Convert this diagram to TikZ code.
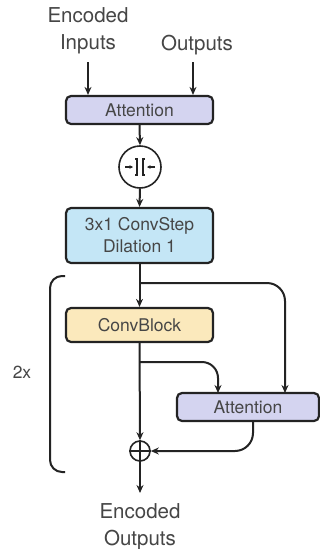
\documentclass[tikz,border=0pt]{standalone}
\usepackage{fontspec}
\setmainfont{TeX Gyre Heros}
\usetikzlibrary{arrows.meta}
\definecolor{attfill}{RGB}{212,212,240}
\definecolor{convfill}{RGB}{196,230,246}
\definecolor{blockfill}{RGB}{251,233,188}
\definecolor{ink}{RGB}{35,35,35}
\definecolor{txt}{RGB}{70,70,70}
\begin{document}
\begin{tikzpicture}[x=1pt,y=-1pt,
  box/.style={draw=ink, line width=2.2pt, rounded corners=5pt, minimum height=28pt, text=txt, font=\fontsize{17.5}{20}\selectfont, inner sep=0pt},
  lbl/.style={text=txt, font=\fontsize{20.5}{27}\selectfont, align=center, inner sep=0pt},
  conn/.style={draw=ink, line width=2pt, -{Stealth[length=8pt,width=7pt]}},
  small/.style={draw=ink, line width=1.1pt, -{Stealth[length=3.5pt,width=3.5pt]}},
  plain/.style={draw=ink, line width=2pt}]
\useasboundingbox (0,0) rectangle (320,549);
\fill[white] (0,0) rectangle (320,549);
% top labels
\node[lbl] (encin) at (88,31) {Encoded\\Inputs};
\node[lbl] (outs) at (197,45) {Outputs};
\coordinate (encinb) at (88,62);
\coordinate (outsb) at (193,62);
% attention 1
\node[box, fill=attfill, minimum width=147pt] (att1) at (139.5,110) {Attention};
\draw[conn] (encinb) -- (encinb |- att1.north);
\draw[conn] (outsb) -- (outsb |- att1.north);
% concat circle
\node[draw=ink, line width=1.6pt, circle, minimum size=42pt, inner sep=0pt] (cat) at (140,167) {};
\draw[ink, line width=1.6pt] ([xshift=-5pt,yshift=8pt]cat.center) -- ([xshift=-3pt,yshift=8pt]cat.center) -- ([xshift=-3pt,yshift=-8pt]cat.center) -- ([xshift=-5pt,yshift=-8pt]cat.center);
\draw[ink, line width=1.6pt] ([xshift=5pt,yshift=8pt]cat.center) -- ([xshift=3pt,yshift=8pt]cat.center) -- ([xshift=3pt,yshift=-8pt]cat.center) -- ([xshift=5pt,yshift=-8pt]cat.center);
\draw[small] ([xshift=-15pt]cat.center) -- ([xshift=-7pt]cat.center);
\draw[small] ([xshift=15pt]cat.center) -- ([xshift=7pt]cat.center);
\draw[conn] (att1.south) -- (cat.north);
% convstep
\node[box, fill=convfill, minimum width=147pt, minimum height=55pt, align=center, font=\fontsize{17.5}{22}\selectfont] (cstep) at (139.5,235.5) {3x1 ConvStep\\Dilation 1};
\draw[conn] (cat.south) -- (cstep.north);
% convblock
\node[box, fill=blockfill, minimum width=147pt, minimum height=34pt] (cblock) at (139.5,325) {ConvBlock};
% attention 2
\node[box, fill=attfill, minimum width=142pt] (att2) at (248,407) {Attention};
% plus
\node[draw=ink, line width=1.6pt, circle, minimum size=20pt, inner sep=0pt] (plus) at (140,451) {};
\draw[ink, line width=1.4pt] (plus.north) -- (plus.south) (plus.west) -- (plus.east);
% connectors
\coordinate (br1) at (140,283);
\coordinate (br2) at (140,362);
\draw[conn] (cstep.south) -- (cblock.north);
\draw[conn, rounded corners=18pt] (br1) -- (285,283) -- (285,393);
\draw[conn] (cblock.south) -- (plus.north);
\draw[conn, rounded corners=16pt] (br2) -- (218,362) -- (218,393);
\draw[conn, rounded corners=18pt] (att2.south -| 253,0) -- (253,451) -- (plus.east);
% output
\node[lbl] (encout) at (140,527) {Encoded\\Outputs};
\draw[conn] (plus.south) -- (140,493);
% bracket
\draw[plain, rounded corners=12pt] (65,276) -- (50,276) -- (50,472) -- (65,472);
\node[lbl, font=\fontsize{17.5}{20}\selectfont] (rep) at (22,372) {2x};
\end{tikzpicture}
\end{document}
